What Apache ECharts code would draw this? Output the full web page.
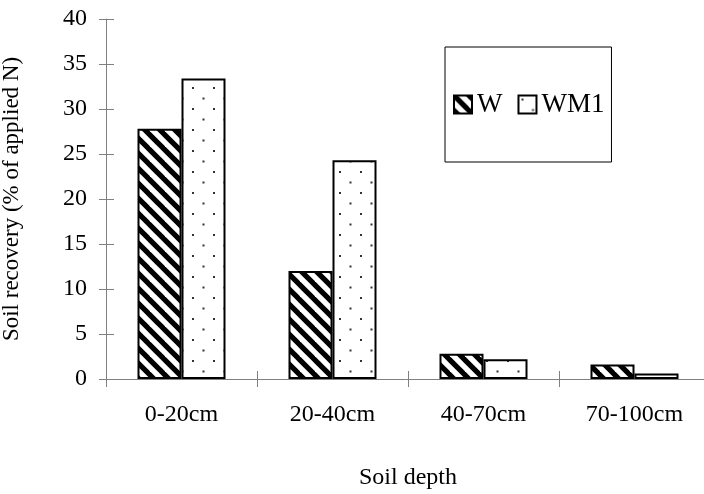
<!DOCTYPE html>
<html>
<head>
<meta charset="utf-8">
<script src="https://cdn.jsdelivr.net/npm/echarts@6/dist/echarts.min.js"></script>
<style>
  html, body { margin: 0; padding: 0; background: #fff; }
  #chart { width: 704px; height: 494px; }
</style>
</head>
<body>
<div id="chart"></div>
<script>
// Soil depth layers and N recovery (% of applied N) for each treatment
const categories = ['0-20cm', '20-40cm', '40-70cm', '70-100cm'];
const seriesNames = ['W', 'WM1'];
const valuesW = [27.8, 12.0, 2.8, 1.6];
const valuesWM1 = [33.4, 24.3, 2.2, 0.6];
const yTicks = { min: 0, max: 40, step: 5 };

const FONT = '"Liberation Serif", "Times New Roman", serif';
const AXIS_GRAY = '#808080';

// Diagonal black hatch fill
function hatchPattern() {
  const s = 15;
  const c = document.createElement('canvas');
  c.width = s; c.height = s;
  const g = c.getContext('2d');
  g.fillStyle = '#fff';
  g.fillRect(0, 0, s, s);
  g.strokeStyle = '#000';
  g.lineWidth = 5.2;
  for (let k = -1; k <= 1; k++) {
    g.beginPath();
    g.moveTo(k * s - 2, -2);
    g.lineTo(k * s + s + 2, s + 2);
    g.stroke();
  }
  return c;
}

// Sparse staggered dot fill
function dotPattern() {
  const s = 21;
  const c = document.createElement('canvas');
  c.width = s; c.height = s;
  const g = c.getContext('2d');
  g.fillStyle = '#fff';
  g.fillRect(0, 0, s, s);
  g.fillStyle = '#333';
  g.fillRect(3, 3, 2, 2);
  g.fillRect(13.5, 13.5, 2, 2);
  return c;
}

const chart = echarts.init(document.getElementById('chart'), null, { renderer: 'canvas' });

chart.setOption({
  animation: false,
  backgroundColor: '#fff',
  textStyle: { fontFamily: FONT, color: '#000', fontSize: 23 },
  grid: { left: 106, top: 19, right: -6, bottom: 115, containLabel: false, outerBoundsMode: 'none' },
  legend: {
    data: seriesNames,
    icon: 'rect',
    left: 445,
    top: 47,
    orient: 'horizontal',
    padding: [44, 7, 44, 8],
    itemGap: 15,
    itemWidth: 18,
    itemHeight: 18,
    borderColor: '#000',
    borderWidth: 1,
    backgroundColor: '#fff',
    textStyle: { fontFamily: FONT, fontSize: 27, color: '#000' }
  },
  xAxis: [
    {
      type: 'category',
      data: categories,
      boundaryGap: true,
      name: 'Soil depth',
      nameLocation: 'middle',
      nameGap: 87,
      nameTextStyle: { fontFamily: FONT, fontSize: 24, color: '#000' },
      axisLine: { show: true, lineStyle: { color: AXIS_GRAY, width: 1 } },
      axisTick: { show: true, inside: false, length: 8, lineStyle: { color: AXIS_GRAY } },
      axisLabel: { margin: 24, fontFamily: FONT, fontSize: 24, color: '#000' }
    },
    {
      type: 'category',
      data: categories,
      boundaryGap: true,
      position: 'bottom',
      axisLine: { show: false },
      axisTick: { show: true, inside: true, length: 8, lineStyle: { color: AXIS_GRAY } },
      axisLabel: { show: false }
    }
  ],
  yAxis: [
    {
      type: 'value',
      min: yTicks.min,
      max: yTicks.max,
      interval: yTicks.step,
      name: 'Soil recovery (% of applied N)',
      nameLocation: 'middle',
      nameGap: 83,
      nameTextStyle: { fontFamily: FONT, fontSize: 23, color: '#000' },
      splitLine: { show: false },
      axisLine: { show: true, lineStyle: { color: AXIS_GRAY, width: 1 } },
      axisTick: { show: true, inside: false, length: 7, lineStyle: { color: AXIS_GRAY } },
      axisLabel: { margin: 19, fontFamily: FONT, fontSize: 24, color: '#000' }
    },
    {
      type: 'value',
      min: yTicks.min,
      max: yTicks.max,
      interval: yTicks.step,
      position: 'left',
      splitLine: { show: false },
      axisLine: { show: false },
      axisTick: { show: true, inside: true, length: 8, lineStyle: { color: AXIS_GRAY } },
      axisLabel: { show: false }
    }
  ],
  series: [
    {
      name: seriesNames[0],
      type: 'bar',
      data: valuesW,
      barWidth: 44,
      barGap: '0%',
      itemStyle: {
        color: { image: hatchPattern(), repeat: 'repeat' },
        borderColor: '#000',
        borderWidth: 2
      }
    },
    {
      name: seriesNames[1],
      type: 'bar',
      data: valuesWM1,
      barWidth: 44,
      barGap: '0%',
      itemStyle: {
        color: { image: dotPattern(), repeat: 'repeat' },
        borderColor: '#000',
        borderWidth: 2
      }
    }
  ]
});
</script>
</body>
</html>
